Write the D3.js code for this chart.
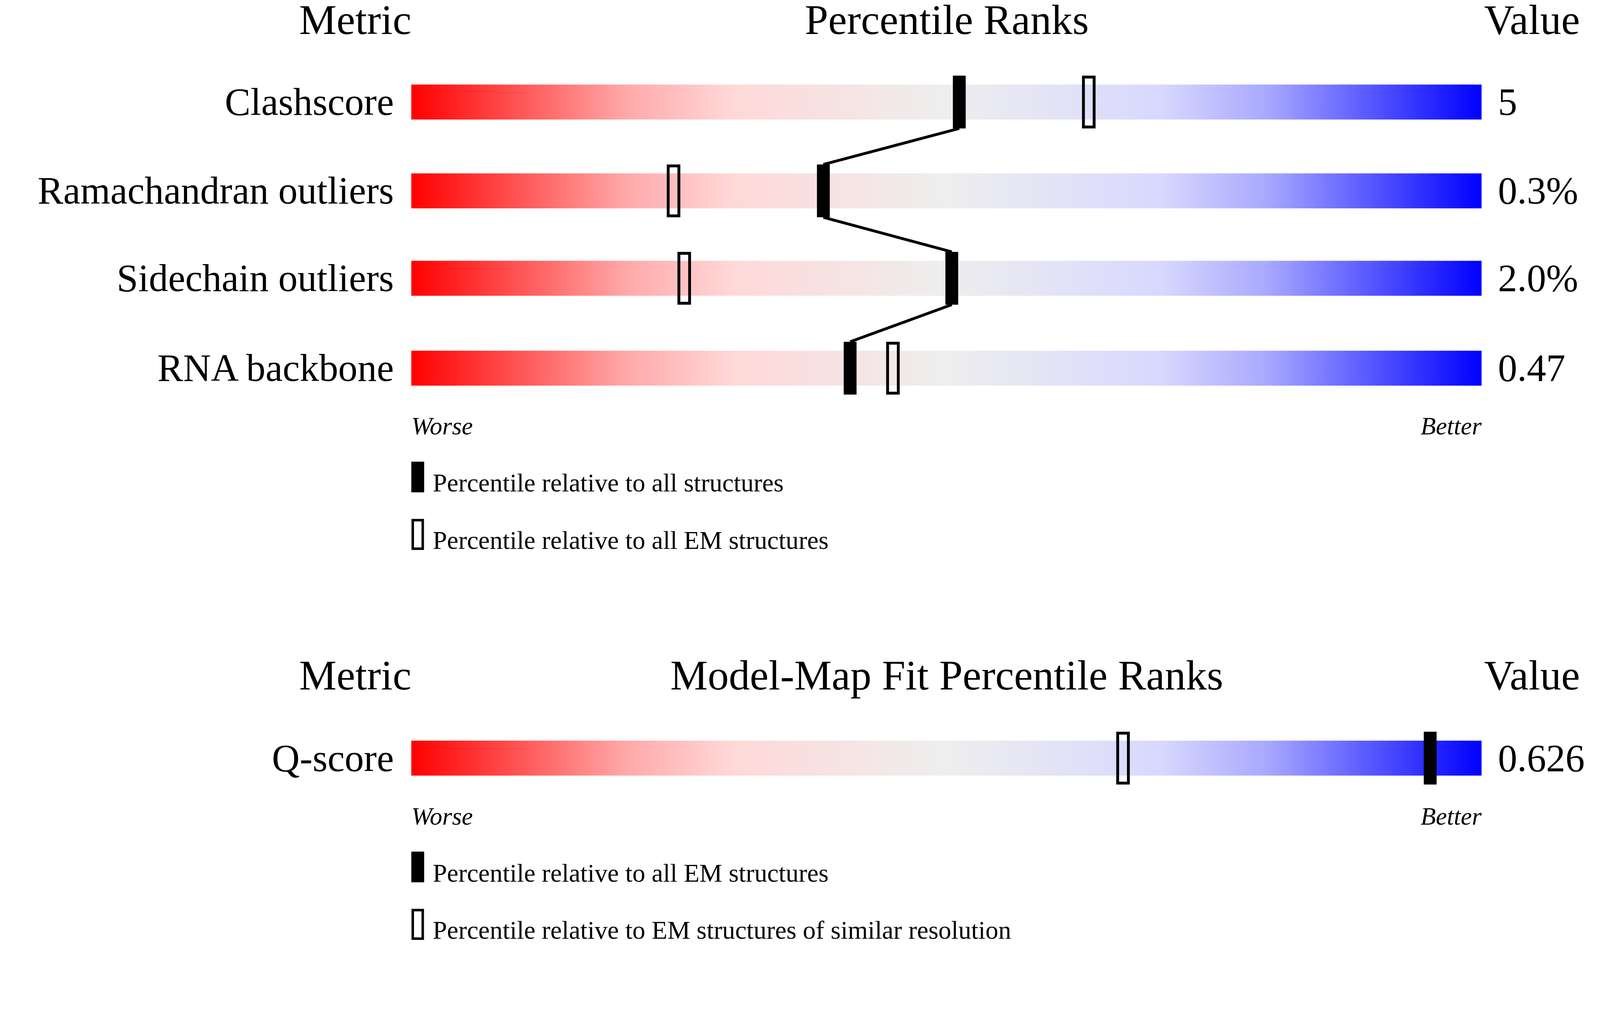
<!DOCTYPE html>
<html><head><meta charset="utf-8">
<script src="https://cdn.jsdelivr.net/npm/d3@7"></script>
<style>html,body{margin:0;padding:0;background:#fff;overflow:hidden}svg{display:block;width:100vw;height:100vh}text{font-family:"Liberation Serif","Times New Roman",serif}</style>
</head><body>
<script>
// data
const metrics = ["Clashscore", "Ramachandran outliers", "Sidechain outliers", "RNA backbone"];
const values = ["5", "0.3%", "2.0%", "0.47"];
const pctAll = [51.2, 38.5, 50.5, 41.0];
const pctEM = [63.3, 24.5, 25.5, 45.0];
const fitMetrics = ["Q-score"];
const fitValues = ["0.626"];
const fitAllEM = [95.2];
const fitSimilar = [66.5];

const W = 4485, H = 2652;
const svg = d3.select("body").append("svg")
  .attr("viewBox", `0 0 ${W} ${H}`).attr("preserveAspectRatio", "xMinYMin meet");

const x = d3.scaleLinear().domain([0, 100]).range([1153, 4153]);

const grad = svg.append("defs").append("linearGradient").attr("id", "g");
[[0, "#ff0000"], [0.2, "#ffa8a8"], [0.3, "#ffd8d8"], [0.5, "#eeeeee"], [0.7, "#d8d8ff"], [0.8, "#a8a8ff"], [1, "#0000ff"]]
  .forEach(s => grad.append("stop").attr("offset", s[0]).attr("stop-color", s[1]));

function panel(title, names, vals, filled, open, yTop, rowY, legend) {
  const hy = yTop;
  svg.append("text").attr("x", 1153).attr("y", hy).attr("text-anchor", "end").attr("font-size", 118).text("Metric");
  svg.append("text").attr("x", 2654).attr("y", hy).attr("text-anchor", "middle").attr("font-size", 118).text(title);
  svg.append("text").attr("x", 4160).attr("y", hy).attr("font-size", 118).text("Value");

  const y = i => rowY[i];
  names.forEach((n, i) => {
    svg.append("rect").attr("x", x(0)).attr("width", x(100) - x(0)).attr("y", y(i) - 49).attr("height", 98).attr("fill", "url(#g)");
    svg.append("text").attr("x", 1104).attr("y", y(i) + 36).attr("text-anchor", "end").attr("font-size", 108).text(n);
    svg.append("text").attr("x", 4199).attr("y", y(i) + 36).attr("font-size", 108).text(vals[i]);
  });
  // connecting line between filled markers
  for (let i = 1; i < names.length; i++) {
    svg.append("line").attr("x1", x(filled[i - 1])).attr("y1", y(i - 1) + 74)
      .attr("x2", x(filled[i])).attr("y2", y(i) - 74).attr("stroke", "#000").attr("stroke-width", 8);
  }
  open.forEach((p, i) => svg.append("rect").attr("x", x(p) - 15).attr("width", 30).attr("y", y(i) - 70).attr("height", 140)
    .attr("fill", "none").attr("stroke", "#000").attr("stroke-width", 8));
  filled.forEach((p, i) => svg.append("rect").attr("x", x(p) - 18).attr("width", 36).attr("y", y(i) - 74).attr("height", 148).attr("fill", "#000"));

  const last = y(names.length - 1);
  svg.append("text").attr("x", x(0)).attr("y", last + 186).attr("font-size", 70).attr("font-style", "italic").text("Worse");
  svg.append("text").attr("x", x(100)).attr("y", last + 186).attr("text-anchor", "end").attr("font-size", 70).attr("font-style", "italic").text("Better");
  legend.forEach((t, k) => {
    const ly = last + 346 + k * 160;
    if (k === 0) svg.append("rect").attr("x", 1153).attr("y", ly - 84).attr("width", 36).attr("height", 86).attr("fill", "#000");
    else svg.append("rect").attr("x", 1157).attr("y", ly - 80).attr("width", 28).attr("height", 80).attr("fill", "none").attr("stroke", "#000").attr("stroke-width", 7);
    svg.append("text").attr("x", 1213).attr("y", ly).attr("font-size", 72).text(t);
  });
}

panel("Percentile Ranks", metrics, values, pctAll, pctEM, 95, [286, 535, 780, 1032],
  ["Percentile relative to all structures", "Percentile relative to all EM structures"]);
panel("Model-Map Fit Percentile Ranks", fitMetrics, fitValues, fitAllEM, fitSimilar, 1933, [2125],
  ["Percentile relative to all EM structures", "Percentile relative to EM structures of similar resolution"]);
</script>
</body></html>
